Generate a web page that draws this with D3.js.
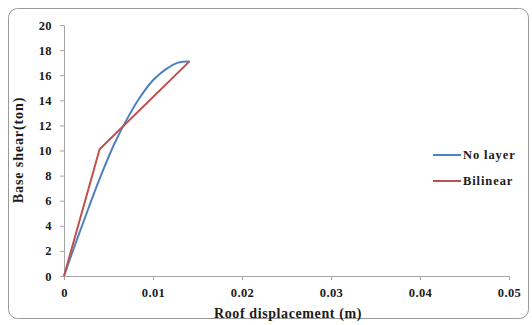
<!DOCTYPE html>
<html>
<head>
<meta charset="utf-8">
<script src="https://cdn.jsdelivr.net/npm/d3@7"></script>
<style>
  html, body { margin: 0; padding: 0; background: #fff; overflow: hidden; }
  svg { display: block; }
  text { font-family: "Liberation Serif", "Times New Roman", serif; font-weight: bold; fill: #1a1a1a; }
</style>
</head>
<body>
<svg id="chart" width="532" height="325"></svg>
<script>
// Pushover curves: roof displacement (m) vs base shear (ton)
const noLayerDisp  = [0, 0.0014, 0.0028, 0.0042, 0.0057, 0.0070, 0.0085, 0.0100, 0.0115, 0.0128, 0.0141];
const noLayerShear = [0, 2.8, 5.5, 8.1, 10.6, 12.4, 14.2, 15.6, 16.5, 17.0, 17.1];
const bilinearDisp  = [0, 0.0040, 0.0141];
const bilinearShear = [0, 10.1, 17.1];
const xTicks = [0, 0.01, 0.02, 0.03, 0.04, 0.05];
const yTicks = [0, 2, 4, 6, 8, 10, 12, 14, 16, 18, 20];
const seriesNames = ["No layer", "Bilinear"];
const seriesColors = ["#4f81bd", "#c0504d"];

const svg = d3.select("#chart");

// outer chart frame
svg.append("rect")
  .attr("x", 8.5).attr("y", 8.5)
  .attr("width", 520).attr("height", 310)
  .attr("rx", 9).attr("ry", 9)
  .attr("fill", "#fff")
  .attr("stroke", "#9a9a9a").attr("stroke-width", 1);

const x = d3.scaleLinear().domain([0, 0.05]).range([64, 509]);
const y = d3.scaleLinear().domain([0, 20]).range([276, 25]);

const xAxis = d3.axisBottom(x).tickValues(xTicks)
  .tickFormat(d => d === 0 ? "0" : d3.format(".2f")(d))
  .tickSizeInner(4).tickSizeOuter(0).tickPadding(8);
const yAxis = d3.axisLeft(y).tickValues(yTicks)
  .tickFormat(d3.format("d"))
  .tickSizeInner(4).tickSizeOuter(0).tickPadding(8);

const gx = svg.append("g").attr("transform", "translate(0,276)").call(xAxis);
const gy = svg.append("g").attr("transform", "translate(64,0)").call(yAxis);
[gx, gy].forEach(g => {
  g.select(".domain").attr("stroke", "#a6a6a6");
  g.selectAll(".tick line").attr("stroke", "#a6a6a6");
  g.selectAll(".tick text").attr("font-size", 12.5)
    .attr("letter-spacing", 0.4)
    .attr("font-family", "Liberation Serif, serif").attr("font-weight", "bold").attr("fill", "#1a1a1a");
});

// axis titles
svg.append("text")
  .attr("x", 288).attr("y", 318)
  .attr("text-anchor", "middle").attr("font-size", 14)
  .attr("letter-spacing", 0.6)
  .text("Roof displacement (m)");
svg.append("text")
  .attr("transform", "translate(23,150) rotate(-90)")
  .attr("text-anchor", "middle").attr("font-size", 14)
  .attr("letter-spacing", 0.9)
  .text("Base shear(ton)");

const line = d3.line().x(d => x(d[0])).y(d => y(d[1]));
const series = [
  { pts: d3.zip(noLayerDisp, noLayerShear), curve: d3.curveCatmullRom.alpha(0.5) },
  { pts: d3.zip(bilinearDisp, bilinearShear), curve: d3.curveLinear }
];
series.forEach((s, i) => {
  svg.append("path")
    .datum(s.pts)
    .attr("fill", "none")
    .attr("stroke", seriesColors[i])
    .attr("stroke-width", 2)
    .attr("stroke-linejoin", "round")
    .attr("d", line.curve(s.curve));
});

// legend
const legend = svg.append("g");
seriesNames.forEach((name, i) => {
  const ly = 155 + i * 26;
  legend.append("line")
    .attr("x1", 433).attr("x2", 461)
    .attr("y1", ly).attr("y2", ly)
    .attr("stroke", seriesColors[i]).attr("stroke-width", 2);
  legend.append("text")
    .attr("x", 463).attr("y", ly + 4)
    .attr("font-size", 12.5)
    .attr("letter-spacing", 0.9)
    .text(name);
});
</script>
</body>
</html>
